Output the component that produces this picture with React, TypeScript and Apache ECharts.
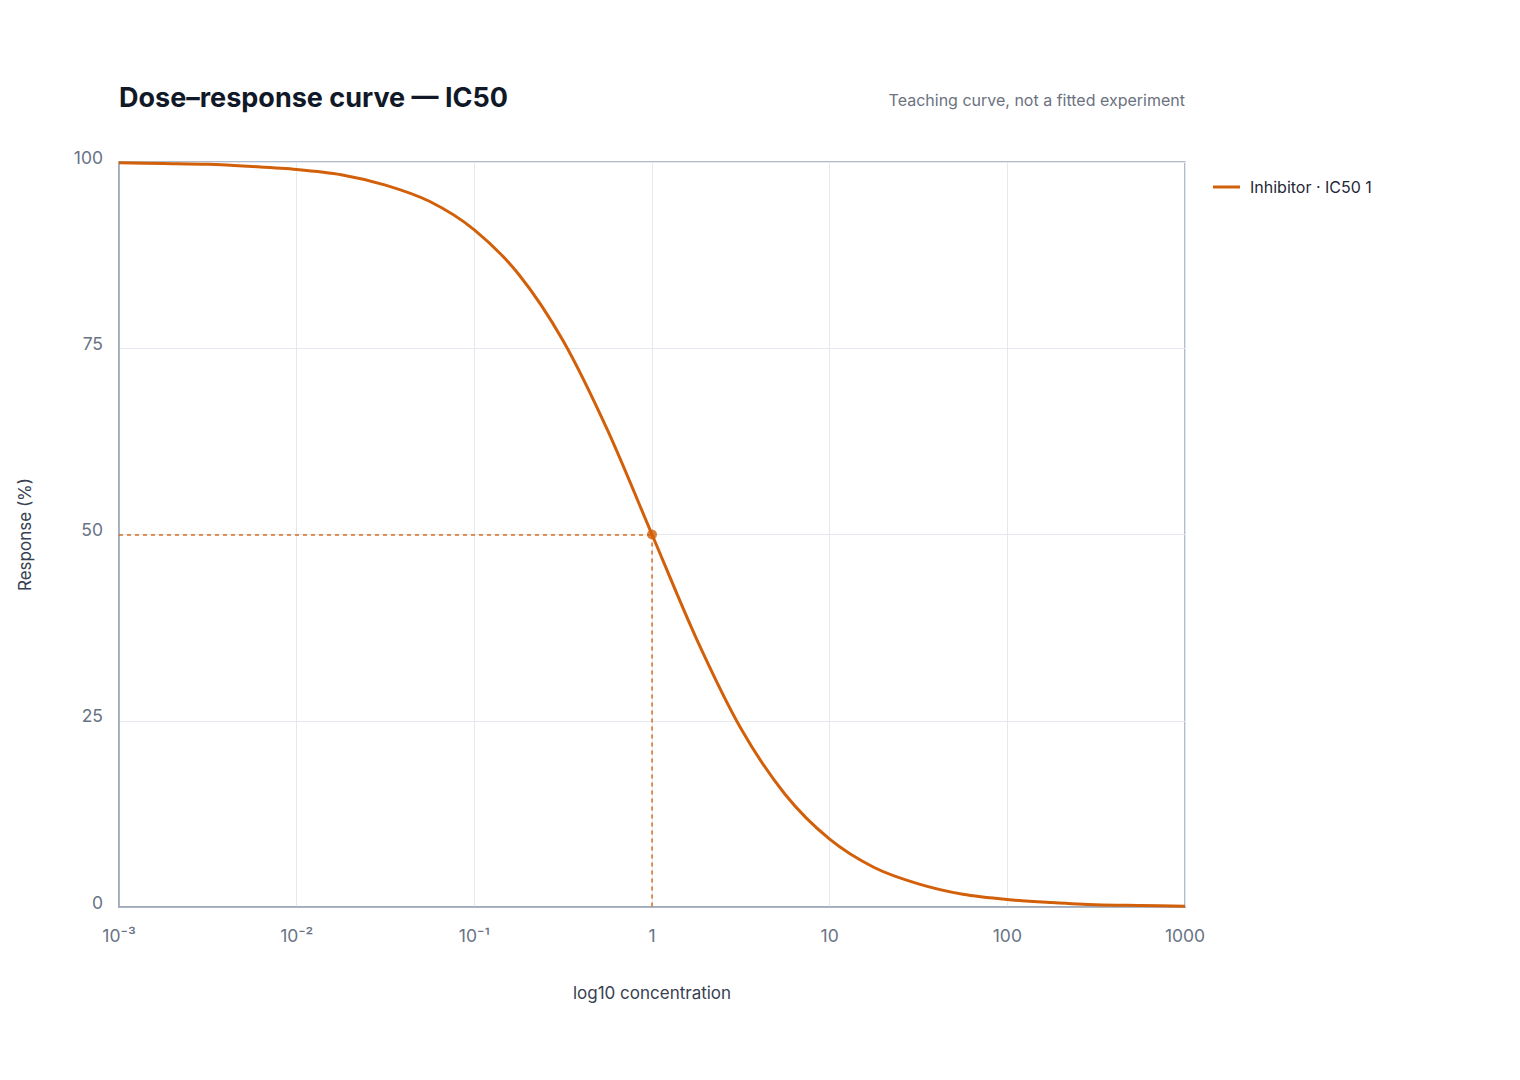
import React, { useEffect, useRef } from "react";
import * as echarts from "echarts";

// Concentrations (log-spaced)
const concentrations = [
  0.001, 0.00178, 0.00316, 0.00562, 0.01, 0.0178, 0.0316, 0.0562, 0.1, 0.178, 0.316, 0.562, 1,
  1.78, 3.16, 5.62, 10, 17.8, 31.6, 56.2, 100, 178, 316, 562, 1000,
];
// Response (%) at those concentrations
const responses = [
  99.9, 99.8, 99.7, 99.4, 99.0, 98.3, 96.9, 94.7, 90.9, 84.9, 76.0, 64.0, 50.0,
  36.0, 24.0, 15.1, 9.1, 5.3, 3.1, 1.7, 1.0, 0.6, 0.3, 0.2, 0.1,
];
const ic50 = 1;
const halfResponse = 50;
const xMin = 0.001;
const xMax = 1000;
const yTicks = [0, 25, 50, 75, 100];

const seriesName = "Inhibitor · IC50 1";
const titleText = "Dose–response curve — IC50";
const subtitleText = "Teaching curve, not a fitted experiment";
const xAxisName = "log10 concentration";
const yAxisName = "Response (%)";

const sup: Record<string, string> = { "-": "⁻", "0": "⁰", "1": "¹", "2": "²", "3": "³", "4": "⁴", "5": "⁵", "6": "⁶", "7": "⁷", "8": "⁸", "9": "⁹" };
function fmtX(v: number): string {
  const e = Math.round(Math.log10(v));
  if (e < 0) return "10" + String(e).split("").map((c) => sup[c] || c).join("");
  return String(Math.round(Math.pow(10, e)));
}

const ORANGE = "#d2600a";
const FONT = "Inter, 'Noto Sans', sans-serif";
const TICK = "#687385";

export default function App() {
  const ref = useRef<HTMLDivElement>(null);
  useEffect(() => {
    if (!ref.current) return;
    const chart = echarts.init(ref.current, null, { renderer: "svg" });
    chart.setOption({
      animation: false,
      backgroundColor: "#ffffff",
      textStyle: { fontFamily: FONT },
      title: [
        {
          text: titleText,
          left: 119,
          top: 84,
          padding: 0,
          textStyle: { fontFamily: FONT, fontSize: 27, fontWeight: 700, color: "#111827" },
        },
        {
          text: subtitleText,
          right: 335,
          top: 92,
          padding: 0,
          textStyle: { fontFamily: FONT, fontSize: 16, fontWeight: 400, color: "#6b7280" },
        },
      ],
      legend: {
        data: [{ name: seriesName, icon: "rect" }],
        orient: "vertical",
        left: 1213,
        top: 179,
        padding: 0,
        itemWidth: 27,
        itemHeight: 3,
        textStyle: { fontFamily: FONT, fontSize: 16, color: "#1f2937", padding: [0, 0, 0, 5] },
      },
      grid: {
        left: 119,
        top: 162,
        right: 335,
        bottom: 173,
        show: true,
        borderColor: "#9aa5b6",
        borderWidth: 1.5,
        backgroundColor: "transparent",
      },
      xAxis: {
        type: "log",
        logBase: 10,
        min: xMin,
        max: xMax,
        name: xAxisName,
        nameLocation: "middle",
        nameGap: 77,
        nameTextStyle: { fontFamily: FONT, fontSize: 17, color: "#374151" },
        axisLine: { show: true, lineStyle: { color: "#9aa5b6", width: 1.5 } },
        axisTick: { show: false },
        splitLine: { show: true, lineStyle: { color: "#e5e8ee", width: 1 } },
        minorSplitLine: { show: false },
        axisLabel: {
          fontFamily: FONT,
          fontSize: 17.5,
          color: TICK,
          margin: 19,
          formatter: (v: number) => fmtX(v),
        },
      },
      yAxis: {
        type: "value",
        min: yTicks[0],
        max: yTicks[yTicks.length - 1],
        interval: 25,
        name: yAxisName,
        nameLocation: "middle",
        nameGap: 86,
        nameTextStyle: { fontFamily: FONT, fontSize: 17, color: "#374151" },
        axisLine: { show: true, lineStyle: { color: "#9aa5b6", width: 1.5 } },
        axisTick: { show: false },
        splitLine: { show: true, lineStyle: { color: "#e5e8ee", width: 1 } },
        axisLabel: {
          fontFamily: FONT,
          fontSize: 17.5,
          color: TICK,
          margin: 16,
          verticalAlign: "bottom",
          lineHeight: 10,
        },
      },
      series: [
        {
          name: seriesName,
          type: "line",
          smooth: 0.3,
          showSymbol: false,
          data: concentrations.map((c, i) => [c, responses[i]]),
          lineStyle: { color: ORANGE, width: 3 },
          itemStyle: { color: ORANGE },
          z: 3,
          markLine: {
            silent: true,
            symbol: "none",
            label: { show: false },
            lineStyle: { color: ORANGE, type: [4, 4], width: 1.5, opacity: 0.9 },
            data: [
              [{ coord: [xMin, halfResponse] }, { coord: [ic50, halfResponse] }],
              [{ coord: [ic50, halfResponse] }, { coord: [ic50, yTicks[0]] }],
            ],
          },
        },
        {
          name: "IC50 point",
          type: "scatter",
          data: [[ic50, halfResponse]],
          symbolSize: 10,
          itemStyle: { color: ORANGE },
          z: 4,
        },
      ],
    });
    return () => chart.dispose();
  }, []);
  return <div ref={ref} style={{ position: "absolute", left: 0, top: 0, width: 1520, height: 1080 }} />;
}
